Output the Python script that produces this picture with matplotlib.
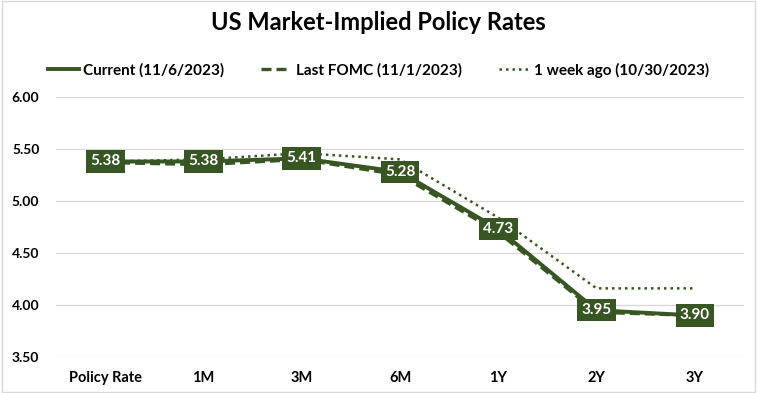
import matplotlib.pyplot as plt

plt.rcParams['font.family'] = ['Lato', 'DejaVu Sans']

# chart data
tenors = ["Policy Rate", "1M", "3M", "6M", "1Y", "2Y", "3Y"]
current = [5.38, 5.38, 5.41, 5.28, 4.73, 3.95, 3.90]
last_fomc = [5.37, 5.35, 5.40, 5.25, 4.70, 3.93, 3.90]
week_ago = [5.38, 5.40, 5.46, 5.40, 4.84, 4.16, 4.16]
yticks = [3.50, 4.00, 4.50, 5.00, 5.50, 6.00]

green = '#375623'

fig = plt.figure(figsize=(7.57, 3.93), dpi=100)
ax = fig.add_axes([56 / 757, 1 - 357 / 393, (744 - 56) / 757, 260 / 393])

x = list(range(len(tenors)))
ax.plot(x, current, color=green, linewidth=2.8, label='Current (11/6/2023)', zorder=4)
ax.plot(x, last_fomc, color=green, linewidth=2.4, linestyle=(0, (3, 1.5)),
        label='Last FOMC (11/1/2023)', zorder=3)
ax.plot(x, week_ago, color=green, linewidth=1.8, linestyle=(0, (1, 1.6)),
        label='1 week ago (10/30/2023)', zorder=2)

# value labels on the current curve
for xi, v in zip(x, current):
    ax.text(xi, v, f'{v:.2f}', ha='center', va='center', color='white',
            fontsize=11, fontweight='bold', zorder=5,
            bbox=dict(facecolor=green, edgecolor='none', boxstyle='square,pad=0.28'))

ax.set_xlim(-0.5, len(tenors) - 0.5)
ax.set_ylim(3.5, 6.0)
ax.set_yticks(yticks)
ax.set_yticklabels([f'{t:.2f}' for t in yticks], fontsize=10, fontweight='bold')
ax.set_xticks(x)
ax.set_xticklabels(tenors, fontsize=10.5, fontweight='bold')
ax.tick_params(length=0, pad=10)
ax.tick_params(axis='y', pad=12)
ax.grid(axis='y', color='#d9d9d9', linewidth=1)
ax.set_axisbelow(True)
for s in ax.spines.values():
    s.set_visible(False)

fig.text(0.5, 1 - 22 / 393, 'US Market-Implied Policy Rates', ha='center', va='center',
         fontsize=17, fontweight='bold')
fig.legend(loc='center', bbox_to_anchor=(0.5, 1 - 70 / 393), ncol=3, frameon=False,
           prop={'weight': 'bold', 'size': 11}, handlelength=2.0, columnspacing=2.4,
           handletextpad=0.3)

# light border around the chart
fig.patches.append(plt.Rectangle((0.002, 0.003), 0.996, 0.994, transform=fig.transFigure,
                                 fill=False, edgecolor='#d9d9d9', linewidth=1))

fig.savefig('out.png', dpi=100)
